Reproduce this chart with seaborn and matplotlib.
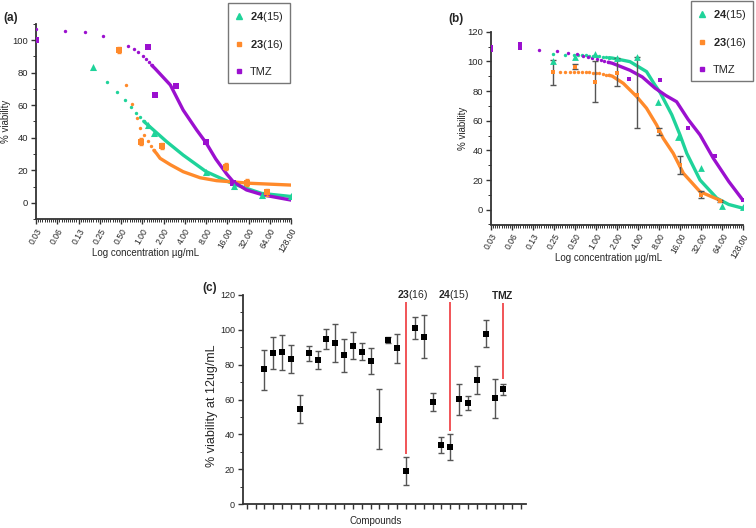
import numpy as np
import seaborn as sns
import matplotlib.pyplot as plt
from matplotlib.lines import Line2D
from matplotlib.ticker import FixedLocator, NullFormatter, MultipleLocator

GREEN = '#1fd39a'
ORANGE = '#ff8a2b'
PURPLE = '#9b10cf'
RED = '#f0474a'
AXIS = '#333333'
EBAR = '#555555'

LBL_15 = r'$\mathbf{24}$($\mathit{15}$)'
LBL_16 = r'$\mathbf{23}$($\mathit{16}$)'

conc_ticks = [0.03125, 0.0625, 0.125, 0.25, 0.5, 1, 2, 4, 8, 16, 32, 64, 128]
conc_labels = ['0.03', '0.06', '0.13', '0.25', '0.50', '1.00', '2.00', '4.00',
               '8.00', '16.00', '32.00', '64.00', '128.00']

# ---------- (a) measured points ----------
a_green_x = [0.2, 1.2, 1.47, 8, 20, 49, 128]
a_green_y = [83.2, 47.7, 43.2, 19.0, 10.2, 5.1, 4.3]
a_orange_x = [0.47, 0.95, 1.9, 15.4, 30, 59]
a_orange_y = [93.9, 37.6, 35.0, 22.3, 12.5, 6.5]
a_purple_x = [0.031, 1.2, 1.5, 2.97, 8, 19.5]
a_purple_y = [100, 95.9, 66.3, 71.8, 37.2, 12.2]

# (a) fitted curves: sparse dotted part and dense solid part
a_green_dots_x = [0.32, 0.44, 0.57, 0.69, 0.81, 0.92, 1.05]
a_green_dots_y = [74.2, 67.9, 63.0, 58.7, 55.4, 52.8, 50.1]
a_green_fit_x = [1.05, 1.28, 2.22, 3.8, 8, 19.5, 49, 128]
a_green_fit_y = [50.1, 46.8, 37.6, 29.4, 19.3, 11.7, 5.9, 4.0]
a_orange_dots_x = [0.59, 0.72, 0.83, 0.94, 1.07, 1.20, 1.32, 1.46]
a_orange_dots_y = [72.6, 60.6, 52.0, 46.2, 41.5, 37.9, 35.0, 32.3]
a_orange_fit_x = [1.46, 1.6, 1.79, 2.5, 3.8, 6.6, 11.3, 33.6, 128]
a_orange_fit_y = [32.3, 30.3, 27.4, 23.5, 19.2, 15.5, 13.7, 12.1, 11.0]
a_purple_dots_x = [0.031, 0.081, 0.153, 0.275, 0.63, 0.76, 0.88, 1.01, 1.13, 1.23, 1.36]
a_purple_dots_y = [106.5, 105.7, 104.7, 102.6, 96.3, 94.3, 92.4, 90.4, 88.1, 86.7, 84.5]
a_purple_fit_x = [1.36, 1.51, 2.5, 3.8, 5.9, 8, 11, 15.7, 19.5, 30, 52, 128]
a_purple_fit_y = [84.5, 82.6, 72.4, 57.0, 44.8, 37.0, 27.0, 17.8, 13.0, 8.0, 4.9, 1.8]

# ---------- (b) measured points ----------
b_green_x = [0.24, 0.5, 0.97, 2.0, 3.85, 7.8, 14.8, 31.6, 63, 128]
b_green_y = [100.5, 103.2, 105.0, 102.1, 102.7, 72.8, 49.2, 27.9, 2.7, 1.6]
b_orange_x = [0.24, 0.5, 0.97, 2.0, 3.9, 8.1, 16, 32, 60]
b_orange_y = [92.5, 96.5, 86.3, 92.0, 77.0, 53.0, 30.0, 10.0, 6.0]
b_orange_lo = [84.0, 95.0, 72.4, 83.4, 54.9, 50.5, 24.0, 7.6, 5.2]
b_orange_hi = [101.0, 98.0, 100.3, 102.5, 102.8, 55.0, 36.3, 12.9, 6.8]
b_purple_x = [0.031, 0.031, 0.081, 0.081, 3.0, 8.3, 20.8, 51, 127]
b_purple_y = [110.0, 107.7, 111.7, 108.8, 88.3, 87.5, 54.9, 36.2, 6.5]

# (b) fitted curves
b_green_dots_x = [0.24, 0.36, 0.49, 0.56, 0.64, 0.72, 0.80, 0.90, 1.0, 1.11, 1.25, 1.38, 1.54]
b_green_dots_y = [104.8, 104.5, 104.3, 104.2, 104.1, 104.0, 103.9, 103.7, 103.5, 103.3, 103.0, 102.8, 102.5]
b_green_fit_x = [1.54, 1.72, 3.07, 5.3, 7.0, 8.3, 12.2, 16, 20, 31, 54, 80, 127]
b_green_fit_y = [102.5, 102.2, 99.8, 93.1, 84.0, 79.0, 64.0, 50.4, 38.0, 20.0, 7.7, 3.5, 1.0]
b_orange_dots_x = [0.305, 0.36, 0.42, 0.49, 0.56, 0.64, 0.72, 0.80, 0.90, 1.0, 1.11, 1.25, 1.38, 1.54]
b_orange_dots_y = [93.0, 93.0, 92.9, 92.9, 92.8, 92.7, 92.6, 92.5, 92.4, 92.2, 92.0, 91.5, 91.0, 90.6]
b_orange_fit_x = [1.54, 1.72, 2.46, 3.84, 5.3, 7.4, 9.2, 12.8, 17.9, 31, 63]
b_orange_fit_y = [90.6, 90.0, 85.2, 76.2, 68.4, 57.1, 48.1, 38.0, 24.5, 12.1, 5.9]
b_purple_dots_x = [0.154, 0.28, 0.40, 0.53, 0.66, 0.77, 0.88, 1.02, 1.17, 1.32, 1.50]
b_purple_dots_y = [107.9, 106.8, 105.7, 104.8, 103.8, 103.0, 102.3, 101.6, 100.9, 100.3, 99.4]
b_purple_fit_x = [1.50, 1.72, 3.07, 4.6, 7.0, 10, 14.3, 20.8, 31, 48, 80, 127]
b_purple_fit_y = [99.4, 98.7, 94.0, 89.5, 82.0, 77.0, 72.8, 61.0, 50.4, 34.7, 19.0, 6.5]

# ---------- (c) viability at 12 ug/mL ----------
c_values = [77.3, 86.7, 87.2, 83.3, 54.5, 86.5, 82.8, 94.6, 92.3, 85.3, 90.8, 87.3, 82.0, 48.5,
            94.3, 89.3, 18.8, 101.2, 96.0, 58.5, 33.8, 32.6, 60.3, 58.1, 71.2, 97.8, 60.7, 66.0]
c_low = [65.5, 77.5, 77.0, 75.0, 46.5, 82.0, 77.5, 89.2, 81.5, 76.0, 83.0, 82.7, 74.5, 31.5,
         92.5, 80.8, 10.8, 95.0, 83.6, 53.6, 29.3, 25.0, 51.3, 53.8, 63.0, 90.0, 49.6, 62.6]
c_high = [88.7, 96.0, 97.0, 91.5, 62.7, 91.0, 87.8, 100.2, 103.3, 95.0, 98.5, 92.4, 89.8, 65.8,
          95.8, 97.5, 27.0, 107.5, 108.4, 63.5, 38.2, 40.0, 68.9, 62.2, 79.2, 105.5, 71.8, 69.1]
c_mark_labels = [LBL_16, LBL_15, r'$\mathbf{TMZ}$']
c_mark_index = [17, 22, 28]          # compound slot (1-based) the red line points to
c_mark_low = [28.9, 42.1, 71.6]
c_mark_high = [115.8, 115.8, 115.6]
c_label_shift = [0.75, 0.4, -0.1]


def base_style(ax):
    sns.despine(ax=ax)
    for s in ('left', 'bottom'):
        ax.spines[s].set_color(AXIS)
        ax.spines[s].set_linewidth(1.3)
    ax.tick_params(which='major', length=3.5, width=1, color=AXIS, pad=2)
    ax.tick_params(which='minor', length=2, width=0.7, color=AXIS)


def style_conc_axis(ax, ylim, xlab_pos, ylab_x):
    ax.set_xscale('log', base=2)
    ax.set_xlim(conc_ticks[0], conc_ticks[-1])
    ax.set_xticks(conc_ticks)
    ax.set_xticklabels(conc_labels, rotation=60, ha='right', va='top',
                       rotation_mode='anchor', fontsize=6.2)
    ax.xaxis.set_minor_locator(FixedLocator(2.0 ** (np.arange(-50, 71) / 10)))
    ax.xaxis.set_minor_formatter(NullFormatter())
    ax.set_ylim(*ylim)
    ax.yaxis.set_major_locator(MultipleLocator(20))
    ax.yaxis.set_minor_locator(MultipleLocator(10))
    ax.tick_params(axis='y', labelsize=6.8)
    ax.set_xlabel('Log concentration µg/mL', fontsize=7)
    ax.set_ylabel('% viability', fontsize=7)
    ax.xaxis.set_label_coords(*xlab_pos)
    ax.yaxis.set_label_coords(ylab_x, 0.5)
    base_style(ax)


def draw_fit(ax, dx, dy, fx, fy, color):
    sns.scatterplot(x=dx, y=dy, ax=ax, color=color, s=6, marker='o', linewidth=0, zorder=3)
    sns.lineplot(x=fx, y=fy, ax=ax, color=color, lw=2.4, estimator=None, sort=False, zorder=3)


def add_legend(ax, left_px, top_px):
    handles = [Line2D([], [], ls='none', marker='^', color=GREEN, ms=4),
               Line2D([], [], ls='none', marker='s', color=ORANGE, ms=3.2),
               Line2D([], [], ls='none', marker='s', color=PURPLE, ms=3.2)]
    labels = [LBL_15, LBL_16, r'TMZ']
    leg = ax.legend(handles, labels, loc='upper left',
                    bbox_to_anchor=(left_px / 756, 1 - top_px / 528),
                    bbox_transform=ax.figure.transFigure, frameon=True, fancybox=False,
                    edgecolor='#555555', fontsize=8, labelspacing=1.3, handlelength=0.8,
                    handletextpad=0.6, borderpad=0.6, borderaxespad=0)
    leg.get_frame().set_linewidth(1.0)
    leg.set_zorder(10)


def main():
    sns.set_theme(style='ticks')
    plt.rcParams['font.family'] = ['Liberation Sans', 'DejaVu Sans']
    plt.rcParams['mathtext.fontset'] = 'custom'
    plt.rcParams['mathtext.rm'] = 'Liberation Sans'
    plt.rcParams['mathtext.it'] = 'Liberation Sans:italic'
    plt.rcParams['mathtext.bf'] = 'Liberation Sans:bold'

    fig = plt.figure(figsize=(7.56, 5.28), dpi=100)

    # (a)
    ax_a = fig.add_axes([36 / 756, 1 - 219.3 / 528, 255 / 756, 195.6 / 528])
    draw_fit(ax_a, a_green_dots_x, a_green_dots_y, a_green_fit_x, a_green_fit_y, GREEN)
    draw_fit(ax_a, a_orange_dots_x, a_orange_dots_y, a_orange_fit_x, a_orange_fit_y, ORANGE)
    draw_fit(ax_a, a_purple_dots_x, a_purple_dots_y, a_purple_fit_x, a_purple_fit_y, PURPLE)
    ax_a.errorbar(a_orange_x, a_orange_y, yerr=2, fmt='none', ecolor=ORANGE, elinewidth=1,
                  capsize=1.5, zorder=4)
    sns.scatterplot(x=a_orange_x, y=a_orange_y, ax=ax_a, color=ORANGE, marker='s', s=14,
                    linewidth=0, zorder=5)
    sns.scatterplot(x=a_purple_x, y=a_purple_y, ax=ax_a, color=PURPLE, marker='s', s=16,
                    linewidth=0, zorder=5)
    sns.scatterplot(x=a_green_x, y=a_green_y, ax=ax_a, color=GREEN, marker='^', s=26,
                    linewidth=0, zorder=5)
    style_conc_axis(ax_a, (-10, 110), (0.43, -0.147), -0.098)
    add_legend(ax_a, 228, 3)

    # (b)
    ax_b = fig.add_axes([491 / 756, 1 - 224.5 / 528, 252 / 756, 192.8 / 528])
    draw_fit(ax_b, b_green_dots_x, b_green_dots_y, b_green_fit_x, b_green_fit_y, GREEN)
    draw_fit(ax_b, b_orange_dots_x, b_orange_dots_y, b_orange_fit_x, b_orange_fit_y, ORANGE)
    draw_fit(ax_b, b_purple_dots_x, b_purple_dots_y, b_purple_fit_x, b_purple_fit_y, PURPLE)
    b_err = [np.array(b_orange_y) - np.array(b_orange_lo), np.array(b_orange_hi) - np.array(b_orange_y)]
    ax_b.errorbar(b_orange_x, b_orange_y, yerr=b_err, fmt='none', ecolor=EBAR, elinewidth=1,
                  capsize=2, zorder=4)
    sns.scatterplot(x=b_orange_x, y=b_orange_y, ax=ax_b, color=ORANGE, marker='s', s=9,
                    linewidth=0, zorder=5)
    sns.scatterplot(x=b_purple_x, y=b_purple_y, ax=ax_b, color=PURPLE, marker='s', s=9,
                    linewidth=0, zorder=5)
    sns.scatterplot(x=b_green_x, y=b_green_y, ax=ax_b, color=GREEN, marker='^', s=24,
                    linewidth=0, zorder=5)
    style_conc_axis(ax_b, (-10, 120), (0.468, -0.148), -0.091)
    add_legend(ax_b, 691, 1)

    # (c)
    ax_c = fig.add_axes([242.7 / 756, 24 / 528, 283.3 / 756, 209 / 528])
    slots = np.arange(1, len(c_values) + 1) + 1
    c_err = [np.array(c_values) - np.array(c_low), np.array(c_high) - np.array(c_values)]
    ax_c.errorbar(slots, c_values, yerr=c_err, fmt='none', ecolor=EBAR, elinewidth=1,
                  capsize=2, zorder=2)
    sns.scatterplot(x=slots, y=c_values, ax=ax_c, color='black', marker='s', s=16,
                    linewidth=0, zorder=3)
    for lab, idx, lo, hi, dx in zip(c_mark_labels, c_mark_index, c_mark_low, c_mark_high, c_label_shift):
        ax_c.vlines(idx + 1, lo, hi, color=RED, lw=1.3, zorder=1)
        ax_c.text(idx + 1 + dx, 120, lab, ha='center', va='center', fontsize=7.5, clip_on=False)
    ax_c.set_xlim(-0.45, 31.55)
    ax_c.set_ylim(0, 120)
    ax_c.set_xticks(np.arange(0, 32))
    ax_c.set_xticklabels([])
    ax_c.yaxis.set_major_locator(MultipleLocator(20))
    ax_c.yaxis.set_minor_locator(MultipleLocator(10))
    ax_c.tick_params(axis='y', labelsize=6.5)
    ax_c.set_xlabel('Compounds', fontsize=7)
    ax_c.set_ylabel('% viability at 12ug/mL', fontsize=9)
    ax_c.xaxis.set_label_coords(0.47, -0.057)
    ax_c.yaxis.set_label_coords(-0.087, 0.47)
    base_style(ax_c)

    fig.text(11 / 756, 1 - 18 / 528, '(a)', fontsize=8.5, fontweight='bold', ha='center', va='center')
    fig.text(456 / 756, 1 - 19 / 528, '(b)', fontsize=8.5, fontweight='bold', ha='center', va='center')
    fig.text(210 / 756, 1 - 288 / 528, '(c)', fontsize=8.5, fontweight='bold', ha='center', va='center')

    fig.savefig('out.png', dpi=100)
    plt.close(fig)


if __name__ == '__main__':
    main()
